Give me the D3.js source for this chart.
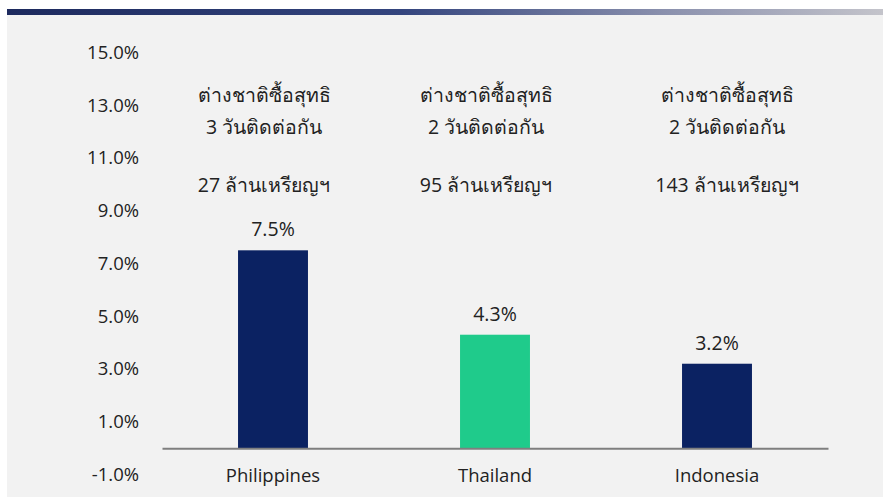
<!DOCTYPE html>
<html><head><meta charset="utf-8">
<script src="https://cdn.jsdelivr.net/npm/d3@7"></script>
<style>
html,body{margin:0;padding:0;background:#fff;}
text{font-family:"Open Sans","Noto Sans",sans-serif;fill:#222;}
</style></head>
<body><svg id="c" width="883" height="498"></svg>
<script>
const categories = ["Philippines", "Thailand", "Indonesia"];
const values = [7.5, 4.3, 3.2];
const barColors = ["#0b2262", "#1fcb8b", "#0b2262"];
const noteLine1 = ["ต่างชาติซื้อสุทธิ", "ต่างชาติซื้อสุทธิ", "ต่างชาติซื้อสุทธิ"];
const noteLine2 = ["3 วันติดต่อกัน", "2 วันติดต่อกัน", "2 วันติดต่อกัน"];
const noteLine3 = ["27 ล้านเหรียญฯ", "95 ล้านเหรียญฯ", "143 ล้านเหรียญฯ"];
const yTicks = [-1, 1, 3, 5, 7, 9, 11, 13, 15];

const fmt = d => d3.format(".1f")(d).replace("−", "-") + "%";

const svg = d3.select("#c");
const defs = svg.append("defs");
const g = defs.append("linearGradient").attr("id","hdr").attr("x1","0").attr("x2","1");
g.append("stop").attr("offset","0").attr("stop-color","#1d2a5e");
g.append("stop").attr("offset","0.45").attr("stop-color","#34457e");
g.append("stop").attr("offset","0.75").attr("stop-color","#8a90ad");
g.append("stop").attr("offset","1").attr("stop-color","#c4c4cb");

svg.append("rect").attr("x",7).attr("y",15).attr("width",876).attr("height",482).attr("fill","#f2f2f2");
svg.append("rect").attr("x",7).attr("y",9).attr("width",876).attr("height",6).attr("fill","url(#hdr)");

const x = d3.scaleBand().domain(categories).range([162, 828]).paddingInner(0.685).paddingOuter(0.3425);
const y = d3.scaleLinear().domain([-1, 15]).range([474.5, 52.5]);

// y axis labels
const yAxis = d3.axisLeft(y).tickValues(yTicks).tickSize(0).tickPadding(0).tickFormat(fmt);
const ya = svg.append("g").attr("transform","translate(139,0)").call(yAxis);
ya.select(".domain").remove();
ya.selectAll("text").attr("font-size",18.5).attr("fill","#222")
  .style("font-family","'Open Sans','Noto Sans',sans-serif");

// bars
svg.selectAll(".bar").data(categories).enter().append("rect")
  .attr("x", d => x(d)).attr("width", x.bandwidth())
  .attr("y", (d,i) => y(values[i])).attr("height", (d,i) => y(0) - y(values[i]))
  .attr("fill", (d,i) => barColors[i]);

// baseline axis
const xAxis = d3.axisBottom(x).tickSize(0).tickPadding(21);
const xa = svg.append("g").attr("transform", `translate(0,${y(0)})`).call(xAxis);
xa.select(".domain").attr("stroke","#7f7f7f").attr("stroke-width",2);
xa.selectAll("text").attr("font-size",18.5).attr("fill","#222")
  .style("font-family","'Open Sans','Noto Sans',sans-serif");

// value labels
svg.selectAll(".val").data(categories).enter().append("text")
  .attr("x", d => x(d) + x.bandwidth()/2).attr("y", (d,i) => y(values[i]) - 14)
  .attr("text-anchor","middle").attr("font-size",19.5)
  .text((d,i) => fmt(values[i]));

// annotations
const noteShift = [-9, -9, 10];
const notes = svg.selectAll(".note").data(categories).enter().append("g");
notes.append("text").attr("x",(d,i)=>x(d)+x.bandwidth()/2+noteShift[i]).attr("y",102)
  .attr("text-anchor","middle").attr("font-size",19.5).text((d,i)=>noteLine1[i]);
notes.append("text").attr("x",(d,i)=>x(d)+x.bandwidth()/2+noteShift[i]).attr("y",134)
  .attr("text-anchor","middle").attr("font-size",19.5).text((d,i)=>noteLine2[i]);
notes.append("text").attr("x",(d,i)=>x(d)+x.bandwidth()/2+noteShift[i]).attr("y",192)
  .attr("text-anchor","middle").attr("font-size",19.5).text((d,i)=>noteLine3[i]);
</script></body></html>
